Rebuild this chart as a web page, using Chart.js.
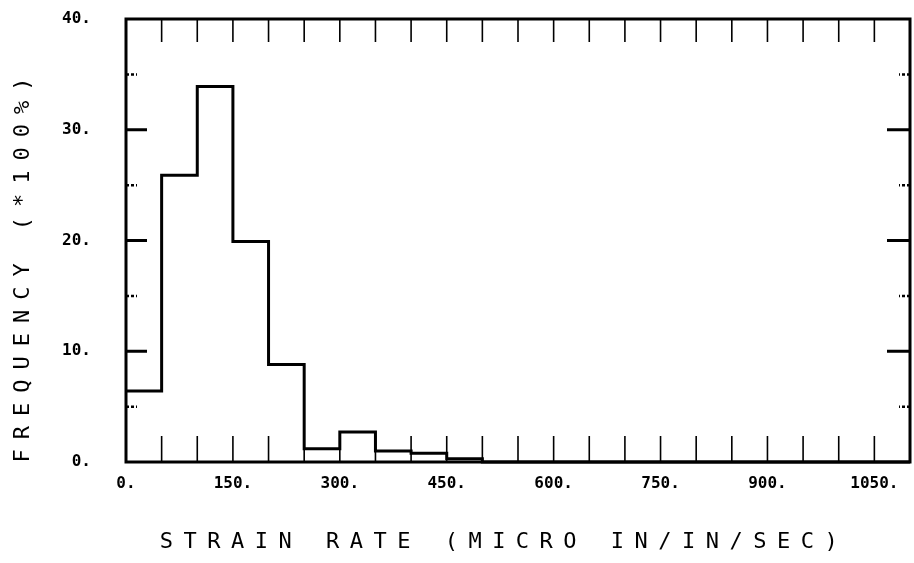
<!DOCTYPE html>
<html>
<head>
<meta charset="utf-8">
<script src="https://cdn.jsdelivr.net/npm/chart.js@4"></script>
<style>
  html, body { margin: 0; padding: 0; background: #fff; }
  #wrap { width: 914px; height: 563px; position: relative; }
</style>
</head>
<body>
<div id="wrap"><canvas id="myChart"></canvas></div>
<script>
// bin starts (micro in/in/sec), each bin is 50 wide
const binStarts = [0, 50, 100, 150, 200, 250, 300, 350, 400, 450, 500,
                   550, 600, 650, 700, 750, 800, 850, 900, 950, 1000, 1050, 1100];
// frequency (*100%)
const frequency = [6.4, 25.9, 33.9, 19.9, 8.8, 1.2, 2.7, 1.0, 0.8, 0.3, 0,
                   0, 0, 0, 0, 0, 0, 0, 0, 0, 0, 0, 0];

const xTitle = 'STRAIN RATE (MICRO IN/IN/SEC)';
const yTitle = 'FREQUENCY (*100%)';

const ctx = document.getElementById('myChart');

const points = binStarts.map((x, i) => ({ x: x, y: frequency[i] }));

// frame, inward ticks and spaced-out axis titles
const plotterAxes = {
  id: 'plotterAxes',
  afterDatasetsDraw(chart) {
    const c = chart.ctx;
    const a = chart.chartArea;
    const xs = chart.scales.x;
    const ys = chart.scales.y;
    c.save();
    c.strokeStyle = '#000';
    c.lineCap = 'butt';

    c.lineWidth = 1.6;
    c.beginPath();
    xs.ticks.forEach(t => {
      if (t.value <= xs.min || t.value >= xs.max) return;
      const px = xs.getPixelForValue(t.value);
      c.moveTo(px, a.top); c.lineTo(px, a.top + 23);
      c.moveTo(px, a.bottom); c.lineTo(px, a.bottom - 26);
    });
    c.stroke();

    ys.ticks.forEach(t => {
      if (t.value <= ys.min || t.value >= ys.max) return;
      const py = ys.getPixelForValue(t.value);
      c.beginPath();
      if (t.value % 10 === 0) {
        c.lineWidth = 3;
        c.setLineDash([]);
        c.moveTo(a.left, py); c.lineTo(a.left + 21, py);
        c.moveTo(a.right, py); c.lineTo(a.right - 23, py);
      } else {
        c.lineWidth = 2.5;
        c.setLineDash([3, 2]);
        c.moveTo(a.left, py); c.lineTo(a.left + 11, py);
        c.moveTo(a.right, py); c.lineTo(a.right - 11, py);
      }
      c.stroke();
    });
    c.setLineDash([]);

    c.lineWidth = 3;
    c.strokeRect(a.left, a.top, a.width, a.height);
    c.restore();
  },
  afterDraw(chart) {
    const c = chart.ctx;
    c.save();
    c.fillStyle = '#000';
    c.textAlign = 'center';
    c.textBaseline = 'middle';

    c.font = '22px "DejaVu Sans Mono"';
    c.letterSpacing = '10.5px';
    c.fillText(xTitle, 504, 542);

    c.translate(23, 270);
    c.rotate(-Math.PI / 2);
    c.font = '22px "DejaVu Sans Mono"';
    c.letterSpacing = '10px';
    c.fillText(yTitle, 5, 0);
    c.restore();
  }
};

const tickFont = { family: 'DejaVu Sans Mono', size: 16, weight: 'bold' };

const config = {
  type: 'line',
  data: {
    datasets: [{
      data: points,
      stepped: true,
      borderColor: '#000',
      borderWidth: 3,
      pointRadius: 0,
      fill: false,
      clip: false
    }]
  },
  options: {
    responsive: true,
    maintainAspectRatio: false,
    animation: false,
    layout: { padding: { top: 19, right: 4, left: 0, bottom: 0 } },
    plugins: {
      legend: { display: false },
      tooltip: { enabled: false }
    },
    scales: {
      x: {
        type: 'linear',
        min: 0,
        max: 1100,
        grid: { display: false, drawTicks: false },
        border: { display: false },
        ticks: {
          stepSize: 50,
          autoSkip: false,
          maxRotation: 0,
          padding: 12,
          color: '#000',
          font: tickFont,
          callback: v => (v % 150 === 0 && v <= 1050) ? v + '.' : ''
        },
        afterFit: s => {
          s.height = 101;
          s.paddingLeft = 0;
          s.paddingRight = 0;
        }
      },
      y: {
        min: 0,
        max: 40,
        grid: { display: false, drawTicks: false },
        border: { display: false },
        ticks: {
          stepSize: 5,
          padding: 35,
          color: '#000',
          font: tickFont,
          callback: v => v % 10 === 0 ? v + '.' : ''
        },
        afterFit: s => {
          s.width = 126;
          s.paddingTop = 0;
          s.paddingBottom = 0;
        }
      }
    }
  },
  plugins: [plotterAxes]
};

const myChart = new Chart(ctx, config);
</script>
</body>
</html>
